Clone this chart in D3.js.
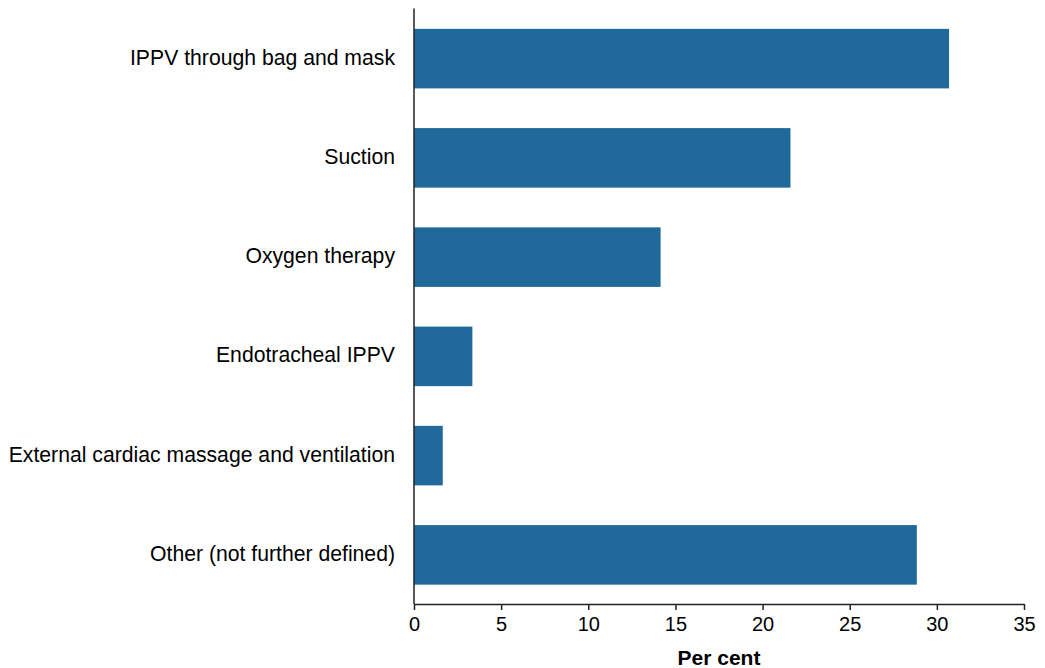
<!DOCTYPE html>
<html>
<head>
<meta charset="utf-8">
<script src="https://cdn.jsdelivr.net/npm/d3@7"></script>
<style>
  body { margin: 0; background: #fff; }
  text { font-family: "Liberation Sans", Arial, sans-serif; fill: #000; }
</style>
</head>
<body>
<div id="chart"></div>
<script>
// categories and values (per cent)
var categories = [
  "IPPV through bag and mask",
  "Suction",
  "Oxygen therapy",
  "Endotracheal IPPV",
  "External cardiac massage and ventilation",
  "Other (not further defined)"
];
var values = [30.7, 21.6, 14.15, 3.35, 1.65, 28.85];
var xTicks = [0, 5, 10, 15, 20, 25, 30, 35];

var width = 1045, height = 668;
var plotLeft = 414, plotRight = 1024, plotTop = 8.5, plotBottom = 604;

var svg = d3.select("#chart").append("svg")
  .attr("width", width)
  .attr("height", height);

var x = d3.scaleLinear().domain([0, 35]).range([plotLeft, plotRight]);
var y = d3.scaleBand().domain(categories).range([plotTop + 0.5, plotBottom + 0.5])
  .paddingInner(0.4).paddingOuter(0.2);

var data = categories.map(function (c, i) { return { cat: c, val: values[i] }; });

svg.selectAll("rect.bar")
  .data(data)
  .enter()
  .append("rect")
    .attr("class", "bar")
    .attr("x", x(0))
    .attr("y", function (d) { return y(d.cat); })
    .attr("width", function (d) { return x(d.val) - x(0); })
    .attr("height", y.bandwidth())
    .attr("fill", "#1f6a9b");

// x axis
var xAxis = svg.append("g")
  .attr("transform", "translate(0," + plotBottom + ")")
  .call(d3.axisBottom(x).tickValues(xTicks).tickSize(6).tickSizeOuter(0));
xAxis.select(".domain").attr("stroke", "#222").attr("stroke-width", 1.5);
xAxis.selectAll(".tick line").attr("stroke", "#222").attr("stroke-width", 1.5);
xAxis.selectAll(".tick text")
  .attr("y", 13)
  .attr("fill", "#000")
  .style("font-size", "20px")
  .style("font-family", "Liberation Sans, Arial, sans-serif");

// y axis (line only, labels drawn separately)
svg.append("line")
  .attr("x1", plotLeft).attr("x2", plotLeft)
  .attr("y1", plotTop).attr("y2", plotBottom)
  .attr("stroke", "#222").attr("stroke-width", 1.5);

svg.selectAll("text.ylab")
  .data(categories)
  .enter()
  .append("text")
    .attr("class", "ylab")
    .attr("x", plotLeft - 19)
    .attr("y", function (d) { return y(d) + y.bandwidth() / 2 - 1.5; })
    .attr("dy", "0.35em")
    .attr("text-anchor", "end")
    .style("font-size", "21.2px")
    .text(function (d) { return d; });

svg.append("text")
  .attr("x", (plotLeft + plotRight) / 2)
  .attr("y", 665)
  .attr("text-anchor", "middle")
  .style("font-size", "21px")
  .style("font-weight", "bold")
  .text("Per cent");
</script>
</body>
</html>
